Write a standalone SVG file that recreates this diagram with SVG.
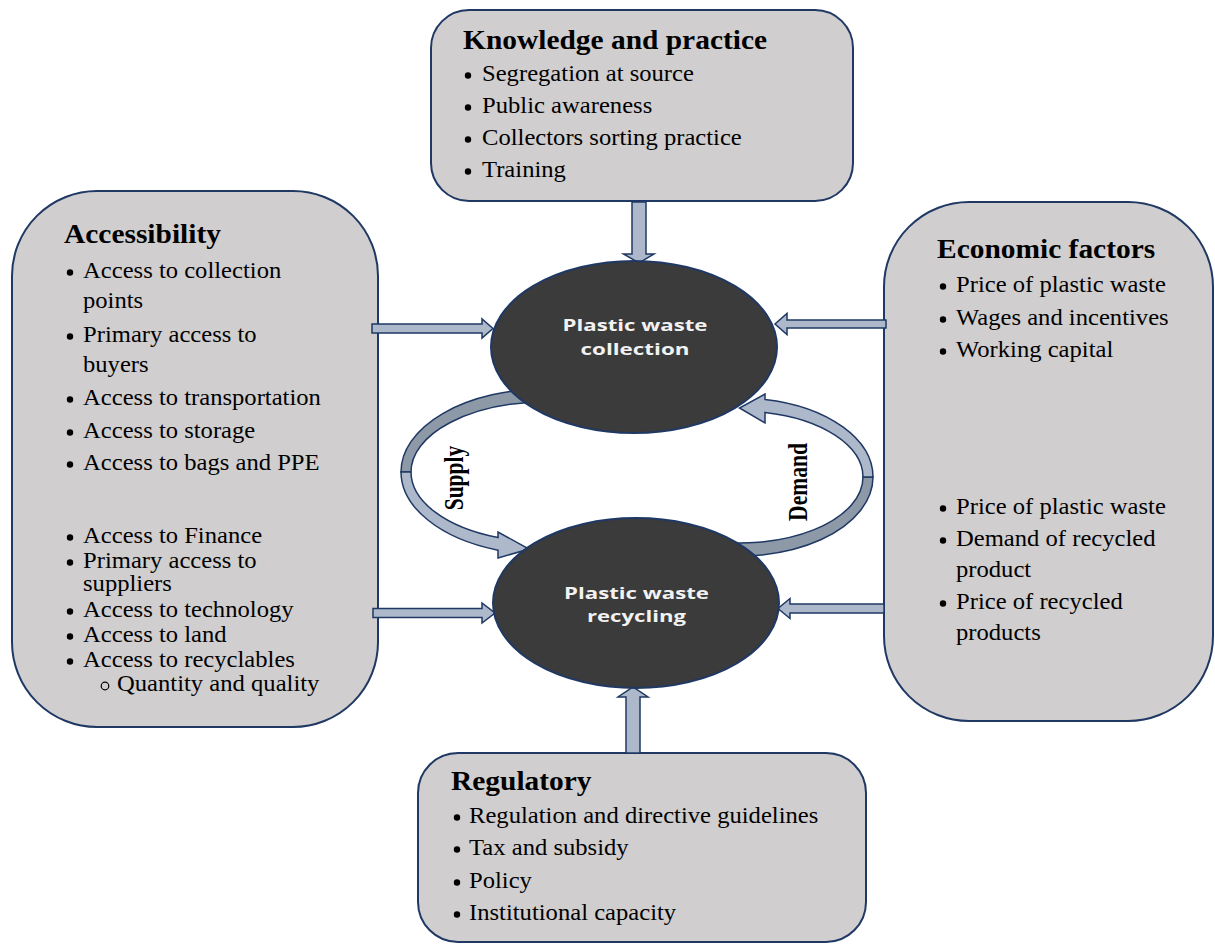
<svg xmlns="http://www.w3.org/2000/svg" width="1215" height="945" viewBox="0 0 1215 945">
<style>
.box{fill:#d0cece;stroke:#1f3864;stroke-width:2}
.ell{fill:#3b3b3b;stroke:#1f3864;stroke-width:2}
.arr{fill:#adb9ca;stroke:#1f3864;stroke-width:1.5}
.dark{fill:#8e99a8;stroke:#1f3864;stroke-width:1.5}
.t{font-family:"Liberation Serif","Times New Roman",serif;font-size:22.6px;fill:#000}
.h{font-family:"Liberation Serif","Times New Roman",serif;font-size:27px;font-weight:bold;fill:#000}
.e{font-family:"Open Sans","Noto Sans",sans-serif;font-weight:bold;font-size:16.8px;fill:#f2f2f2;text-anchor:middle}
.v{font-family:"Liberation Serif","Times New Roman",serif;font-weight:bold;font-size:28px;text-anchor:middle;fill:#000}
.b{fill:#000}
.o{fill:none;stroke:#000;stroke-width:1.2}
</style>
<rect width="1215" height="945" fill="#fff"/>

<g id="knowledge">
<rect class="box" x="431" y="10" width="422" height="191" rx="38"/>
<g transform="matrix(1.09,0,0,1,-43.38,0)">
<text class="h" x="464.6" y="49">Knowledge and practice</text>
<text class="t" x="482" y="81">Segregation at source</text>
<text class="t" x="482" y="113">Public awareness</text>
<text class="t" x="482" y="145">Collectors sorting practice</text>
<text class="t" x="482" y="177">Training</text>
</g>
<circle class="b" cx="468" cy="75.5" r="3.2"/>
<circle class="b" cx="468" cy="107.5" r="3.2"/>
<circle class="b" cx="468" cy="139.5" r="3.2"/>
<circle class="b" cx="468" cy="171.5" r="3.2"/>
</g>

<g id="accessibility">
<rect class="box" x="12" y="191" width="366" height="536" rx="85"/>
<g transform="matrix(1.09,0,0,1,-7.47,0)">
<text class="h" x="65.6" y="243">Accessibility</text>
<text class="t" x="83" y="278">Access to collection</text>
<text class="t" x="83" y="308">points</text>
<text class="t" x="83" y="342">Primary access to</text>
<text class="t" x="83" y="372">buyers</text>
<text class="t" x="83" y="405">Access to transportation</text>
<text class="t" x="83" y="438">Access to storage</text>
<text class="t" x="83" y="470">Access to bags and PPE</text>
<text class="t" x="83" y="543">Access to Finance</text>
<text class="t" x="83" y="568">Primary access to</text>
<text class="t" x="83" y="591">suppliers</text>
<text class="t" x="83" y="617">Access to technology</text>
<text class="t" x="83" y="642">Access to land</text>
<text class="t" x="83" y="667">Access to recyclables</text>
<text class="t" x="114.2" y="691">Quantity and quality</text>
</g>
<circle class="b" cx="70" cy="272.5" r="3.2"/>
<circle class="b" cx="70" cy="336.5" r="3.2"/>
<circle class="b" cx="70" cy="399.5" r="3.2"/>
<circle class="b" cx="70" cy="432.5" r="3.2"/>
<circle class="b" cx="70" cy="464.5" r="3.2"/>
<circle class="b" cx="70" cy="537.5" r="3.2"/>
<circle class="b" cx="70" cy="562.5" r="3.2"/>
<circle class="b" cx="70" cy="611.5" r="3.2"/>
<circle class="b" cx="70" cy="636.5" r="3.2"/>
<circle class="b" cx="70" cy="661.5" r="3.2"/>
<circle class="o" cx="105" cy="686" r="3.8"/>
</g>

<g id="economic">
<rect class="box" x="884" y="202" width="329" height="519" rx="85"/>
<g transform="matrix(1.09,0,0,1,-86.04,0)">
<text class="h" x="938.6" y="258">Economic factors</text>
<text class="t" x="956" y="292">Price of plastic waste</text>
<text class="t" x="956" y="325">Wages and incentives</text>
<text class="t" x="956" y="357">Working capital</text>
<text class="t" x="956" y="514">Price of plastic waste</text>
<text class="t" x="956" y="546">Demand of recycled</text>
<text class="t" x="956" y="577">product</text>
<text class="t" x="956" y="609">Price of recycled</text>
<text class="t" x="956" y="640">products</text>
</g>
<circle class="b" cx="943" cy="286.5" r="3.2"/>
<circle class="b" cx="943" cy="319.5" r="3.2"/>
<circle class="b" cx="943" cy="351.5" r="3.2"/>
<circle class="b" cx="943" cy="508.5" r="3.2"/>
<circle class="b" cx="943" cy="540.5" r="3.2"/>
<circle class="b" cx="943" cy="603.5" r="3.2"/>
</g>

<g id="regulatory">
<rect class="box" x="418" y="753" width="448" height="189" rx="40"/>
<g transform="matrix(1.09,0,0,1,-42.21,0)">
<text class="h" x="452.5" y="790">Regulatory</text>
<text class="t" x="469" y="823">Regulation and directive guidelines</text>
<text class="t" x="469" y="855">Tax and subsidy</text>
<text class="t" x="469" y="888">Policy</text>
<text class="t" x="469" y="920">Institutional capacity</text>
</g>
<circle class="b" cx="457" cy="817.5" r="3.2"/>
<circle class="b" cx="457" cy="849.5" r="3.2"/>
<circle class="b" cx="457" cy="882.5" r="3.2"/>
<circle class="b" cx="457" cy="914.5" r="3.2"/>
</g>

<g id="connectors">
<polygon class="arr" points="632,202 646,202 646,254 654,254 639,263 623.5,254 632,254"/>
<polygon class="arr" points="626,753 640,753 640,697 648,697 633,687 618,697 626,697"/>
<polygon class="arr" points="372,324 482,324 482,319 493,328.5 482,338 482,333 372,333"/>
<polygon class="arr" points="373,608.5 482,608.5 482,603 495,613 482,623 482,617.5 373,617.5"/>
<polygon class="arr" points="886,320 787,320 787,313.5 775,324 787,334.5 787,328 886,328"/>
<polygon class="arr" points="884,604 790,604 790,598.5 778,608.5 790,618.5 790,613 884,613"/>
<g id="supply">
<path class="dark" d="M545,389 A144,83 0 0 0 401,472 L411,472 A134,70 0 0 1 545,402 Z"/>
<path class="arr" d="M401,472 A144,83 0 0 0 498,550.2 L498,558 L529,549 L498,532 L498,537.6 A134,70 0 0 1 411,472 Z"/>
<text class="v" transform="translate(463,478) rotate(-90) scale(0.77,1)">Supply</text>
</g>
<g id="demand">
<path class="dark" d="M705,553.2 A133,79 0 0 0 873,477 L863,477 A123,66 0 0 1 705,540.3 Z"/>
<path class="arr" d="M873,477 A133,79 0 0 0 765,399.4 L765,394 L739.5,408 L765,423 L765,412.4 A123,66 0 0 1 863,477 Z"/>
<text class="v" transform="translate(807,482) rotate(-90) scale(0.77,1)">Demand</text>
</g>
</g>

<g id="collection">
<ellipse class="ell" cx="634" cy="347" rx="143" ry="86"/>
<text class="e" x="635" y="331" textLength="145" lengthAdjust="spacingAndGlyphs">Plastic waste</text>
<text class="e" x="635" y="355" textLength="109" lengthAdjust="spacingAndGlyphs">collection</text>
</g>

<g id="recycling">
<ellipse class="ell" cx="636" cy="603" rx="143" ry="85"/>
<text class="e" x="636.5" y="599" textLength="145" lengthAdjust="spacingAndGlyphs">Plastic waste</text>
<text class="e" x="636.5" y="622" textLength="99" lengthAdjust="spacingAndGlyphs">recycling</text>
</g>
</svg>
